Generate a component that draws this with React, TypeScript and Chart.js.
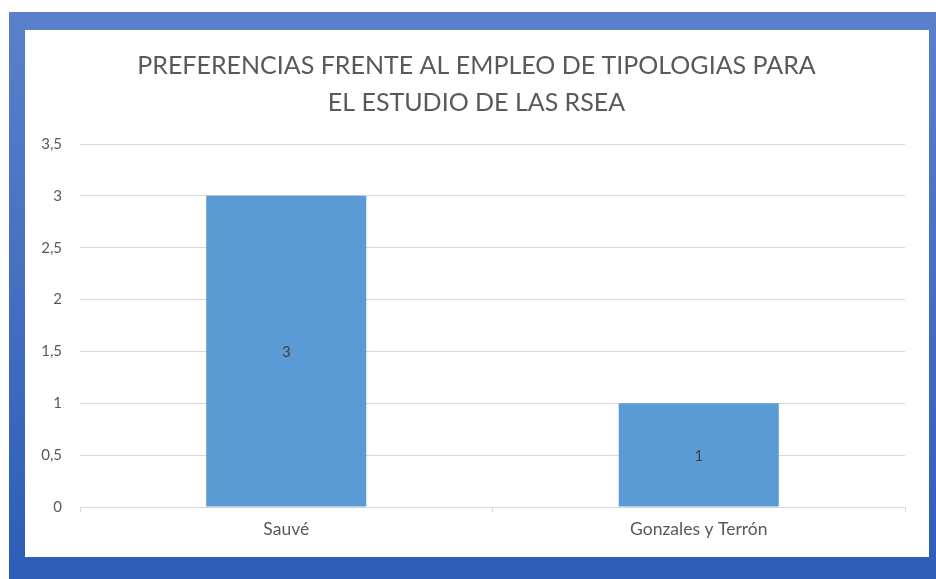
import React, { useEffect, useRef } from "react";
import { Chart, registerables } from "chart.js";

Chart.register(...registerables);

const categories: string[] = ["Sauvé", "Gonzales y Terrón"];
const values: number[] = [3, 1];
const titleLines: string[] = [
  "PREFERENCIAS FRENTE AL EMPLEO DE TIPOLOGIAS PARA",
  "EL ESTUDIO DE LAS RSEA",
];
const yMin = 0;
const yMax = 3.5;
const yStep = 0.5;

const FONT = "Lato, 'Open Sans', sans-serif";
const TEXT = "#595959";
const GRID = "#d9d9d9";
const BAR = "#5b9bd5";

const framePlugin = {
  id: "frame",
  beforeDraw(chart: any) {
    const ctx = chart.ctx as CanvasRenderingContext2D;
    ctx.save();
    const g = ctx.createLinearGradient(0, 12, 0, 579);
    g.addColorStop(0, "#5b80cb");
    g.addColorStop(1, "#2d5db7");
    ctx.fillStyle = g;
    ctx.fillRect(9, 12, 927, 567);
    ctx.fillStyle = "#ffffff";
    ctx.fillRect(25, 30, 904, 527);
    ctx.restore();
  },
  afterDraw(chart: any) {
    const ctx = chart.ctx as CanvasRenderingContext2D;
    ctx.save();
    ctx.fillStyle = TEXT;
    ctx.font = `25px ${FONT}`;
    ctx.textAlign = "center";
    ctx.textBaseline = "alphabetic";
    titleLines.forEach((line, i) => {
      ctx.fillText(line, 476.5, 74 + i * 37);
    });
    ctx.restore();
  },
};

const labelPlugin = {
  id: "barLabels",
  afterDatasetsDraw(chart: any) {
    const ctx = chart.ctx as CanvasRenderingContext2D;
    const meta = chart.getDatasetMeta(0);
    ctx.save();
    ctx.fillStyle = "#404040";
    ctx.font = `15px ${FONT}`;
    ctx.textAlign = "center";
    ctx.textBaseline = "middle";
    meta.data.forEach((el: any, i: number) => {
      const v = chart.data.datasets[0].data[i];
      ctx.fillText(String(v), el.x, (el.y + el.base) / 2 + 1);
    });
    ctx.restore();
  },
};

export default function App() {
  const ref = useRef<HTMLCanvasElement | null>(null);

  useEffect(() => {
    if (!ref.current) return;
    const chart = new Chart(ref.current, {
      type: "bar",
      data: {
        labels: categories,
        datasets: [
          {
            data: values,
            backgroundColor: BAR,
            barPercentage: 0.388,
            categoryPercentage: 1,
          },
        ],
      },
      options: {
        animation: false,
        responsive: false,
        devicePixelRatio: 1,
        layout: { padding: { left: 25, right: 31, top: 144, bottom: 32 } },
        plugins: {
          legend: { display: false },
          tooltip: { enabled: false },
          title: { display: false },
        },
        scales: {
          x: {
            grid: {
              display: true,
              drawOnChartArea: false,
              drawTicks: true,
              tickLength: 5,
              color: GRID,
            },
            border: { display: true, color: GRID },
            ticks: {
              color: TEXT,
              font: { family: FONT, size: 17.5 },
              padding: 7,
            },
            afterFit(scale: any) {
              scale.height = 40;
            },
          },
          y: {
            min: yMin,
            max: yMax,
            ticks: {
              stepSize: yStep,
              color: TEXT,
              font: { family: FONT, size: 15 },
              padding: 18,
              callback: (v: any) => String(v).replace(".", ","),
            },
            grid: { color: GRID, drawTicks: false },
            border: { display: false },
            afterFit(scale: any) {
              scale.width = 55;
            },
          },
        },
      },
      plugins: [framePlugin, labelPlugin],
    });
    return () => chart.destroy();
  }, []);

  return (
    <div style={{ position: "fixed", left: 0, top: 0, width: 936, height: 579 }}>
      <canvas ref={ref} width={936} height={579} style={{ width: 936, height: 579, display: "block" }} />
    </div>
  );
}
